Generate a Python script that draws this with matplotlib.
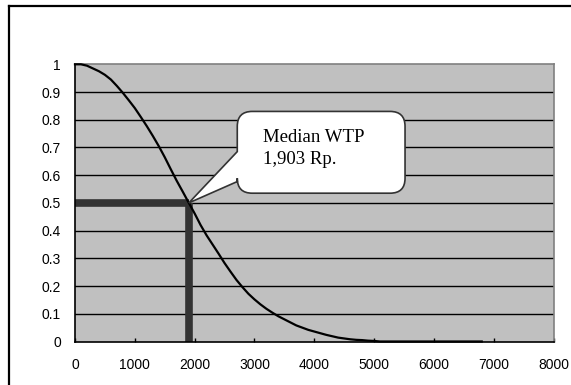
import numpy as np
import matplotlib
matplotlib.use("Agg")
import matplotlib.pyplot as plt
from matplotlib.path import Path
from matplotlib.patches import PathPatch
from matplotlib.lines import Line2D

# survival curve of willingness to pay (Rp.)
wtp = [0, 100, 200, 300, 400, 500, 600, 700, 800, 900, 1000, 1100, 1200, 1300,
       1400, 1500, 1600, 1700, 1800, 1903, 2000, 2100, 2200, 2300, 2400, 2500,
       2600, 2700, 2800, 2900, 3000, 3100, 3200, 3300, 3400, 3500, 3600, 3700,
       3800, 3900, 4000, 4100, 4200, 4300, 4400, 4500, 4600, 4700, 4800, 4900,
       5000, 5100, 5500, 6000, 6500, 6800]
prob = [1.0, 1.0, 0.995, 0.985, 0.975, 0.962, 0.945, 0.922, 0.897, 0.870,
        0.842, 0.810, 0.777, 0.742, 0.705, 0.665, 0.622, 0.580, 0.541, 0.500,
        0.462, 0.420, 0.383, 0.350, 0.317, 0.283, 0.252, 0.222, 0.196, 0.172,
        0.152, 0.134, 0.118, 0.104, 0.091, 0.080, 0.069, 0.058, 0.050, 0.042,
        0.036, 0.030, 0.024, 0.019, 0.014, 0.011, 0.008, 0.006, 0.005, 0.003,
        0.002, 0.0, 0.0, 0.0, 0.0, 0.0]
median_wtp = 1903
median_p = 0.5
x_ticks = [0, 1000, 2000, 3000, 4000, 5000, 6000, 7000, 8000]
y_ticks = [0, 0.1, 0.2, 0.3, 0.4, 0.5, 0.6, 0.7, 0.8, 0.9, 1]
y_labels = ["0", "0.1", "0.2", "0.3", "0.4", "0.5", "0.6", "0.7", "0.8", "0.9", "1"]
callout_text = "Median WTP\n1,903 Rp."

fig = plt.figure(figsize=(5.71, 3.85), dpi=100)
fig.patch.set_facecolor("white")

# outer frame (only top and left visible in the original crop)
fig.add_artist(Line2D([9/571, 1.0], [1 - 6/385, 1 - 6/385], color="black", lw=1.6,
                      transform=fig.transFigure))
fig.add_artist(Line2D([9/571, 9/571], [0.0, 1 - 6/385], color="black", lw=1.6,
                      transform=fig.transFigure))

ax = fig.add_axes([75/571, 1 - 341.5/385, 478.5/571, 277.2/385])
ax.set_facecolor("#c0c0c0")
ax.set_xlim(0, 8000)
ax.set_ylim(0, 1)

for y in y_ticks[1:-1]:
    ax.axhline(y, color="black", lw=1.0, zorder=1)

# median guide bars
ax.plot([0, median_wtp], [median_p, median_p], color="#333333", lw=5.5,
        solid_capstyle="butt", zorder=2)
ax.plot([median_wtp, median_wtp], [0, median_p], color="#333333", lw=5.5,
        solid_capstyle="butt", zorder=2)

ax.plot(wtp, prob, color="black", lw=1.6, zorder=3, clip_on=False)

# callout box with pointer to the median
x0, x1, y0, y1 = 2713, 5518, 0.535, 0.830
rx, ry = 250, 0.054
verts = [(x0 + rx, y1), (x1 - rx, y1), (x1, y1), (x1, y1 - ry),
         (x1, y0 + ry), (x1, y0), (x1 - rx, y0),
         (x0 + rx, y0), (x0, y0), (x0, y0 + ry),
         (x0, 0.577), (median_wtp, median_p), (x0, 0.685),
         (x0, y1 - ry), (x0, y1), (x0 + rx, y1), (x0 + rx, y1)]
codes = [Path.MOVETO, Path.LINETO, Path.CURVE3, Path.CURVE3,
         Path.LINETO, Path.CURVE3, Path.CURVE3,
         Path.LINETO, Path.CURVE3, Path.CURVE3,
         Path.LINETO, Path.LINETO, Path.LINETO,
         Path.LINETO, Path.CURVE3, Path.CURVE3, Path.CLOSEPOLY]
ax.add_patch(PathPatch(Path(verts, codes), facecolor="white", edgecolor="#333333",
                       lw=1.2, zorder=4))
ax.text(x0 + 430, 0.695, callout_text, family="Liberation Serif", fontsize=13.5,
        va="center", ha="left", linespacing=1.4, zorder=5)

ax.set_xticks(x_ticks)
ax.set_xticklabels([str(v) for v in x_ticks])
ax.set_yticks(y_ticks)
ax.set_yticklabels(y_labels)
ax.tick_params(axis="x", direction="in", length=3, width=1, pad=12,
               labelsize=10, labelfontfamily="Liberation Sans")
ax.tick_params(axis="y", length=0, pad=10, labelsize=10, labelfontfamily="Liberation Sans")

ax.spines["left"].set_color("black")
ax.spines["bottom"].set_color("black")
ax.spines["left"].set_linewidth(1.2)
ax.spines["bottom"].set_linewidth(1.2)
ax.spines["top"].set_color("#808080")
ax.spines["right"].set_color("#808080")
ax.spines["top"].set_linewidth(1.2)
ax.spines["right"].set_linewidth(1.2)

fig.savefig("out.png", dpi=100)
